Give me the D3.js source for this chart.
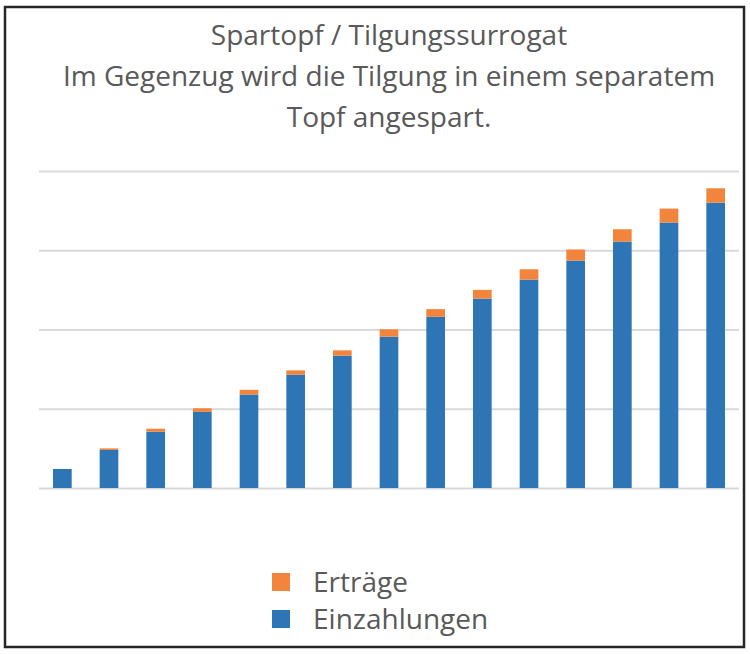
<!DOCTYPE html>
<html><head><meta charset="utf-8">
<script src="https://cdn.jsdelivr.net/npm/d3@7"></script>
<style>html,body{margin:0;padding:0;background:#fff;}svg{display:block;}</style>
</head><body>
<svg id="c" width="750" height="654"></svg>
<script>
const categories = ["1","2","3","4","5","6","7","8","9","10","11","12","13","14","15"];
const einzahlungen = [24, 48, 71, 96, 118, 143, 167, 191, 216, 239, 263, 287, 311, 335, 360];
const ertraege = [0, 2, 3.8, 4.6, 5.9, 5.4, 6.7, 9.3, 9.7, 11, 13, 13.9, 15.5, 17.6, 18.2];
const yTicks = [0, 100, 200, 300, 400];
const seriesNames = ["Einzahlungen", "Erträge"];
const seriesColors = ["#2e75b6", "#f2853b"];
const titleLines = ["Spartopf / Tilgungssurrogat", "Im Gegenzug wird die Tilgung in einem separatem", "Topf angespart."];

const svg = d3.select("#c");
const font = "'Open Sans', sans-serif";

svg.append("rect").attr("x", 5).attr("y", 7).attr("width", 739).attr("height", 640)
  .attr("fill", "#fff").attr("stroke", "#262626").attr("stroke-width", 2.5);

const x = d3.scaleBand().domain(categories).range([39, 739]).paddingInner(0.6).paddingOuter(0.3);
const y = d3.scaleLinear().domain([0, 400]).range([488, 171]);

// gridlines
const yAxis = d3.axisLeft(y).tickValues(yTicks).tickSize(-700).tickFormat("");
const ga = svg.append("g").attr("transform", "translate(39,0)").call(yAxis);
ga.select(".domain").remove();
ga.selectAll(".tick line").attr("stroke", "#d9d9d9").attr("stroke-width", 2);

const rows = categories.map((c, i) => ({cat: c, Einzahlungen: einzahlungen[i], "Erträge": ertraege[i]}));
const stack = d3.stack().keys(seriesNames)(rows);

svg.append("g").selectAll("g").data(stack).join("g")
  .attr("fill", (d, i) => seriesColors[i])
  .selectAll("rect").data(d => d).join("rect")
  .attr("x", d => x(d.data.cat))
  .attr("width", x.bandwidth())
  .attr("y", d => y(d[1]))
  .attr("height", d => y(d[0]) - y(d[1]));

// title
svg.append("g").selectAll("text").data(titleLines).join("text")
  .attr("x", 389).attr("y", (d, i) => 45 + i * 41)
  .attr("text-anchor", "middle")
  .attr("font-family", font).attr("font-size", 28)
  .attr("fill", "#595959")
  .text(d => d);

// legend
const legendItems = [1, 0];
const lg = svg.append("g").selectAll("g").data(legendItems).join("g")
  .attr("transform", (d, i) => `translate(272,${573 + i * 37})`);
lg.append("rect").attr("width", 18).attr("height", 18).attr("fill", d => seriesColors[d]);
lg.append("text").attr("x", 41).attr("y", 19)
  .attr("font-family", font).attr("font-size", 28).attr("fill", "#595959")
  .text(d => seriesNames[d]);
</script>
</body></html>
